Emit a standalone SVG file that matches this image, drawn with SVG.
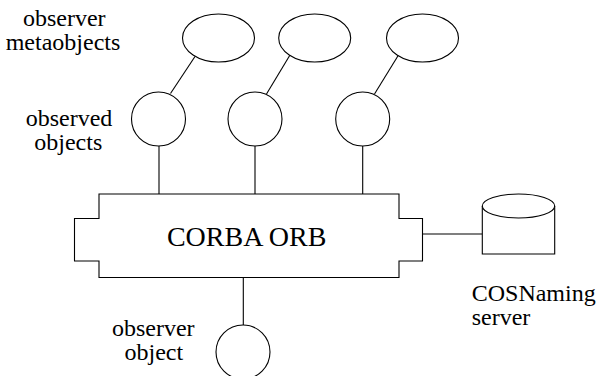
<svg xmlns="http://www.w3.org/2000/svg" width="607" height="376" viewBox="0 0 607 376">
<style>
.s{fill:#fff;stroke:#000;stroke-width:1.1}
.c{fill:none;stroke:#000;stroke-width:1.1}
</style>
<rect width="607" height="376" fill="#fff"/>
<g id="connectors">
<line class="c" x1="195" y1="56.5" x2="170.5" y2="93.5"/>
<line class="c" x1="290" y1="55" x2="266.5" y2="94"/>
<line class="c" x1="398.5" y1="55" x2="374.5" y2="94"/>
<line class="c" x1="159" y1="146" x2="159" y2="194"/>
<line class="c" x1="255" y1="146" x2="255" y2="194"/>
<line class="c" x1="362.7" y1="146" x2="362.7" y2="194"/>
<line class="c" x1="422.5" y1="234" x2="482.3" y2="234"/>
<line class="c" x1="243.3" y1="277.5" x2="243.3" y2="325"/>
</g>
<g id="meta1"><ellipse class="s" cx="218.5" cy="38" rx="36" ry="24"/></g>
<g id="meta2"><ellipse class="s" cx="314.7" cy="38" rx="36" ry="24"/></g>
<g id="meta3"><ellipse class="s" cx="422.5" cy="38" rx="36" ry="24"/></g>
<g id="obj1"><circle class="s" cx="158.5" cy="119" r="27"/></g>
<g id="obj2"><circle class="s" cx="255" cy="119" r="27"/></g>
<g id="obj3"><circle class="s" cx="362.7" cy="119" r="27"/></g>
<g id="orb">
<path class="s" d="M99,194 H399 V218.5 H422.5 V261 H399 V277.5 H99 V261 H74.5 V218.5 H99 Z"/>
<text x="246.7" y="246" font-family="Liberation Serif, serif" font-size="28" text-anchor="middle">CORBA ORB</text>
</g>
<g id="naming">
<path class="s" d="M482.3,206 V254 H554.7 V206"/>
<ellipse class="s" cx="518.5" cy="206" rx="36.2" ry="12"/>
</g>
<g id="observer"><circle class="s" cx="243" cy="352" r="27"/></g>
<g id="labels" font-family="Liberation Serif, serif" font-size="24">
<text text-anchor="middle" x="64.3" y="26">observer</text>
<text text-anchor="middle" x="63" y="50">metaobjects</text>
<text text-anchor="middle" x="69" y="126">observed</text>
<text text-anchor="middle" x="68.3" y="150">objects</text>
<text x="471.7" y="301">COSNaming</text>
<text x="471.7" y="325">server</text>
<text text-anchor="middle" x="153.3" y="336">observer</text>
<text text-anchor="middle" x="153.8" y="360">object</text>
</g>
</svg>
